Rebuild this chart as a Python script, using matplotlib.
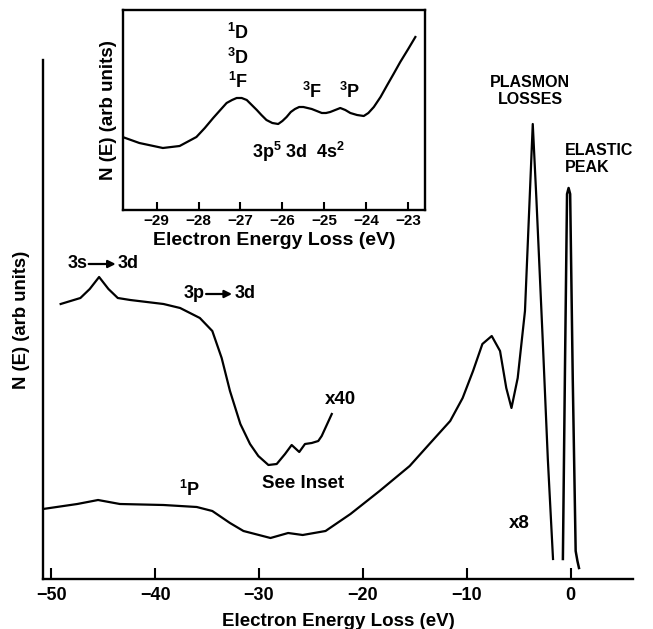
import matplotlib
matplotlib.use("Agg")
import matplotlib.pyplot as plt

plt.rcParams['font.family'] = ['Liberation Sans', 'DejaVu Sans']
plt.rcParams['font.weight'] = 'bold'
plt.rcParams['mathtext.fontset'] = 'custom'
for k in ('rm', 'it', 'bf', 'sf'):
    plt.rcParams['mathtext.' + k] = 'Liberation Sans:bold'

# ---- main panel data (energy loss in eV, intensity in arb units) ----
x40_energy = [-49.1, -47.2, -46.3, -45.4, -44.5, -43.6, -42.4, -39.2, -37.6, -35.7,
              -34.5, -33.6, -32.8, -31.8, -30.87, -30.07, -29.1, -28.3, -27.5, -26.86,
              -26.13, -25.58, -24.93, -24.3, -23.97, -23.0]
x40_signal = [275, 281, 290, 302, 290, 281, 279, 275, 271, 261,
              248, 221, 188, 155, 135, 123, 114, 115, 125, 134,
              127, 135, 136, 138, 143, 165]

x8_energy = [-50.8, -47.5, -45.5, -43.4, -39.2, -36.0, -34.5, -32.8, -31.5, -28.9,
             -27.2, -25.8, -23.6, -21.2, -18.4, -15.5, -13.6, -11.6, -10.4, -9.4,
             -8.5, -7.6, -6.8, -6.2, -5.7, -5.1, -4.4, -3.65, -3.3, -2.7,
             -2.2, -1.7]
x8_signal = [70, 75, 79, 75, 74, 72, 68, 56, 48, 41,
             46, 44, 48, 65, 88, 113, 135, 158, 181, 208,
             235, 243, 228, 191, 171, 201, 268, 455, 380, 241,
             120, 20]

elastic_energy = [-0.75, -0.55, -0.35, -0.2, -0.05, 0.2, 0.48, 0.65, 0.8]
elastic_signal = [20, 210, 385, 391, 385, 200, 28, 18, 11]

main_ticks = [-50, -40, -30, -20, -10, 0]
main_ticklabels = ['\u221250', '\u221240', '\u221230', '\u221220', '\u221210', '0']

# ---- inset data ----
inset_energy = [-29.81, -29.41, -28.85, -28.45, -28.05, -27.85, -27.65, -27.48, -27.33, -27.2,
                -27.09, -26.97, -26.85, -26.73, -26.61, -26.5, -26.38, -26.24, -26.10, -26.0,
                -25.90, -25.80, -25.70, -25.60, -25.50, -25.40, -25.30, -25.18, -25.06, -24.96,
                -24.86, -24.74, -24.62, -24.50, -24.38, -24.22, -24.06, -23.95, -23.82, -23.66,
                -23.50, -23.35, -23.19, -23.0, -22.83]
inset_signal = [76, 70, 65, 67, 76, 85, 95, 103, 110, 113,
                115, 115, 113, 108, 103, 98, 93, 90, 89, 92,
                96, 101, 104, 106, 106, 105, 104, 102, 100, 100,
                101, 103, 105, 103, 100, 98, 97, 100, 106, 116,
                128, 139, 151, 164, 176]
inset_ticks = [-29, -28, -27, -26, -25, -24, -23]
inset_ticklabels = ['\u221229', '\u221228', '\u221227', '\u221226', '\u221225', '\u221224', '\u221223']

fig = plt.figure(figsize=(6.53, 6.29), dpi=100)

ax = fig.add_axes([43 / 653, 50 / 629, 590 / 653, 519 / 629])
ax.plot(x40_energy, x40_signal, color='black', lw=1.6)
ax.plot(x8_energy, x8_signal, color='black', lw=1.6)
ax.plot(elastic_energy, elastic_signal, color='black', lw=1.8)
ax.set_xlim(-50.8, 6.0)
ax.set_ylim(0, 519)
for s in ('top', 'right'):
    ax.spines[s].set_visible(False)
for s in ('left', 'bottom'):
    ax.spines[s].set_linewidth(1.7)
ax.set_yticks([])
ax.set_xticks(main_ticks)
ax.set_xticklabels(main_ticklabels)
ax.tick_params(axis='x', direction='in', length=8, width=1.5, labelsize=13, pad=6)
ax.set_xlabel('Electron Energy Loss (eV)', fontsize=13.5, fontweight='bold', labelpad=6)
ax.set_ylabel('N (E) (arb units)', fontsize=13.3, fontweight='bold', labelpad=9)

# transition labels with drawn arrows
lab = dict(fontsize=13, fontweight='bold', va='center')
arrow = dict(arrowstyle='-|>', lw=1.6, color='black', mutation_scale=11,
             shrinkA=0, shrinkB=0)
ax.text(-46.5, 315, '3s', ha='right', **lab)
ax.annotate('', xy=(-43.8, 315), xytext=(-46.4, 315), arrowprops=arrow)
ax.text(-43.6, 315, '3d', ha='left', **lab)
ax.text(-35.2, 285, '3p', ha='right', **lab)
ax.annotate('', xy=(-32.6, 285), xytext=(-35.1, 285), arrowprops=arrow)
ax.text(-32.4, 285, '3d', ha='left', **lab)

ax.text(-22.2, 180, 'x40', fontsize=13.5, fontweight='bold', ha='center', va='center')
ax.text(-25.8, 96, 'See Inset', fontsize=13.5, fontweight='bold', ha='center', va='center')
ax.text(-36.7, 89, r'$^{1}$P', fontsize=13, fontweight='bold', ha='center', va='center')
ax.text(-4.9, 56, 'x8', fontsize=13.5, fontweight='bold', ha='center', va='center')
ax.text(-3.9, 488, 'PLASMON\nLOSSES', fontsize=11.5, fontweight='bold', ha='center',
        va='center', linespacing=1.15)
ax.text(-0.6, 420, 'ELASTIC\nPEAK', fontsize=11.5, fontweight='bold', ha='left',
        va='center', linespacing=1.15)

# ---- inset ----
ins = fig.add_axes([123 / 653, 419 / 629, 302 / 653, 200 / 629])
ins.plot(inset_energy, inset_signal, color='black', lw=1.6)
ins.set_xlim(-29.8, -22.6)
ins.set_ylim(3, 203)
for s in ins.spines.values():
    s.set_linewidth(1.7)
ins.set_yticks([])
ins.set_xticks(inset_ticks)
ins.set_xticklabels(inset_ticklabels)
ins.tick_params(axis='x', direction='in', length=6, width=1.5, labelsize=11, pad=3)
ins.set_xlabel('Electron Energy Loss (eV)', fontsize=14, fontweight='bold', labelpad=3)
ins.set_ylabel('N (E) (arb units)', fontsize=13.5, fontweight='bold', labelpad=4)

ik = dict(fontsize=13, fontweight='bold', ha='center', va='center')
ins.text(-27.05, 180, r'$^{1}$D', **ik)
ins.text(-27.05, 155, r'$^{3}$D', **ik)
ins.text(-27.05, 131, r'$^{1}$F', **ik)
ins.text(-25.3, 121, r'$^{3}$F', **ik)
ins.text(-24.4, 121, r'$^{3}$P', **ik)
ins.text(-25.6, 61, r'3p$^{5}$ 3d  4s$^{2}$', **ik)

fig.savefig('out.png', dpi=100)
